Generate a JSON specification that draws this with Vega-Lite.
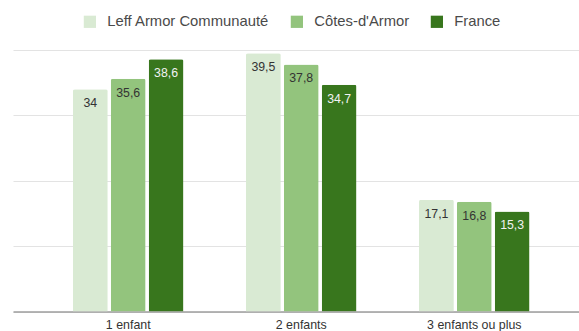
{
  "$schema": "https://vega.github.io/schema/vega-lite/v6.json",
  "width": 566,
  "height": 261.5,
  "autosize": {"type": "none"},
  "padding": {"left": 13, "top": 50, "right": 0, "bottom": 19.5},
  "background": "#ffffff",
  "config": {
    "locale": {
      "number": {"decimal": ",", "thousands": " ", "grouping": [3], "currency": ["", " €"]}
    },
    "font": "Liberation Sans",
    "view": {"stroke": null}
  },
  "data": {
    "values": [
      {"categorie": "1 enfant", "serie": "Leff Armor Communauté", "valeur": 34},
      {"categorie": "1 enfant", "serie": "Côtes-d'Armor", "valeur": 35.6},
      {"categorie": "1 enfant", "serie": "France", "valeur": 38.6},
      {"categorie": "2 enfants", "serie": "Leff Armor Communauté", "valeur": 39.5},
      {"categorie": "2 enfants", "serie": "Côtes-d'Armor", "valeur": 37.8},
      {"categorie": "2 enfants", "serie": "France", "valeur": 34.7},
      {"categorie": "3 enfants ou plus", "serie": "Leff Armor Communauté", "valeur": 17.1},
      {"categorie": "3 enfants ou plus", "serie": "Côtes-d'Armor", "valeur": 16.8},
      {"categorie": "3 enfants ou plus", "serie": "France", "valeur": 15.3}
    ]
  },
  "encoding": {
    "x": {
      "field": "categorie",
      "type": "nominal",
      "sort": ["1 enfant", "2 enfants", "3 enfants ou plus"],
      "scale": {"paddingInner": 0.361, "paddingOuter": 0.316, "align": 0.548, "round": false},
      "axis": {
        "title": null,
        "labelAngle": 0,
        "ticks": false,
        "labelFontSize": 12.4,
        "labelColor": "#333333",
        "labelPadding": 7,
        "domainColor": "#9e9e9e",
        "domainWidth": 1.5
      }
    },
    "xOffset": {
      "field": "serie",
      "type": "nominal",
      "sort": ["Leff Armor Communauté", "Côtes-d'Armor", "France"],
      "scale": {"paddingInner": 0.08, "paddingOuter": 0, "round": false}
    },
    "y": {
      "field": "valeur",
      "type": "quantitative",
      "scale": {"domain": [0, 40], "nice": false},
      "axis": {
        "title": null,
        "values": [0, 10, 20, 30, 40],
        "labels": false,
        "ticks": false,
        "domain": false,
        "gridColor": "#e3e3e3",
        "gridWidth": 1
      }
    }
  },
  "layer": [
    {
      "mark": {"type": "bar", "cornerRadiusTopLeft": 2, "cornerRadiusTopRight": 2},
      "encoding": {
        "color": {
          "field": "serie",
          "type": "nominal",
          "scale": {
            "domain": ["Leff Armor Communauté", "Côtes-d'Armor", "France"],
            "range": ["#d9ead3", "#93c47d", "#38761d"]
          },
          "legend": {
            "title": null,
            "orient": "none",
            "direction": "horizontal",
            "legendX": 69.5,
            "legendY": -36,
            "padding": 0,
            "symbolType": "square",
            "symbolSize": 150,
            "symbolStrokeWidth": 0,
            "symbolOpacity": 1,
            "labelFontSize": 14.8,
            "labelLimit": 400,
            "labelColor": "#4a4a4a",
            "labelOffset": 10,
            "columnPadding": 20
          }
        }
      }
    },
    {
      "mark": {"type": "text", "baseline": "middle", "align": "center", "dy": 14, "fontSize": 12.3},
      "encoding": {
        "text": {"field": "valeur", "type": "quantitative", "format": ".1~f"},
        "color": {
          "condition": {"test": "datum.serie === 'France'", "value": "#f2f2f2"},
          "value": "#333333"
        }
      }
    }
  ]
}
